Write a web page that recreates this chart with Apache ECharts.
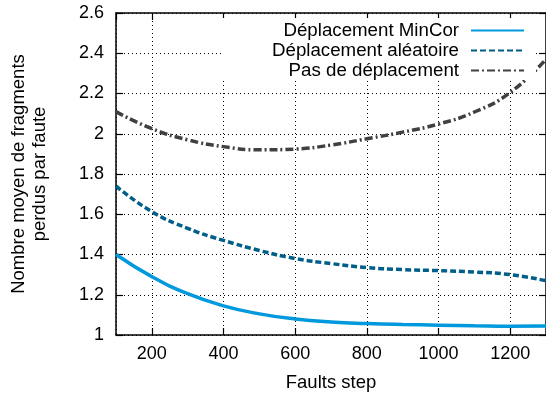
<!DOCTYPE html>
<html>
<head>
<meta charset="utf-8">
<script src="https://cdn.jsdelivr.net/npm/echarts@6/dist/echarts.min.js"></script>
<style>html,body{margin:0;padding:0;background:#fff}#c{width:546px;height:399px}</style>
</head>
<body>
<div id="c"></div>
<script>
const steps = [100, 200, 300, 400, 500, 600, 700, 800, 900, 1000, 1100, 1200, 1300];
const minCor = [1.40, 1.29, 1.205, 1.145, 1.105, 1.08, 1.065, 1.057, 1.052, 1.049, 1.046, 1.044, 1.045];
const aleatoire = [1.74, 1.613, 1.53, 1.47, 1.42, 1.38, 1.355, 1.335, 1.325, 1.32, 1.313, 1.30, 1.27];
const pasDepl = [2.11, 2.025, 1.97, 1.936, 1.92, 1.924, 1.944, 1.975, 2.008, 2.048, 2.108, 2.205, 2.37];
const seriesNames = ['Déplacement MinCor', 'Déplacement aléatoire', 'Pas de déplacement'];
const xName = 'Faults step';
const yName = 'Nombre moyen de fragments\nperdus par faute';

const FONT = '"Liberation Sans", Arial, Helvetica, sans-serif';
const pairs = (ys) => steps.map((x, i) => [x, ys[i]]);

const chart = echarts.init(document.getElementById('c'), null, {renderer: 'canvas'});
const axisLineStyle = {color: '#000', width: 1.5};
chart.setOption({
  animation: false,
  backgroundColor: '#fff',
  textStyle: {fontFamily: FONT},
  grid: {left: 112, top: 13, width: 436, bottom: 64, containLabel: false},
  legend: {
    orient: 'vertical', right: 10, top: 18, align: 'right',
    padding: [3, 11, 0, 51],
    backgroundColor: '#fff',
    itemWidth: 53, itemHeight: 14, itemGap: 1,
    itemStyle: {opacity: 0},
    textStyle: {fontFamily: FONT, fontSize: 18.7, color: '#000', padding: [0, 7, 0, 0]},
    data: seriesNames
  },
  xAxis: [{
    type: 'value', min: 100, max: 1300, splitNumber: 6,
    name: xName, nameLocation: 'middle', nameGap: 38,
    nameTextStyle: {fontFamily: FONT, fontSize: 18.5, color: '#000'},
    axisLine: {show: true, lineStyle: axisLineStyle},
    axisTick: {show: true, inside: true, length: 7, lineStyle: {color: '#000', width: 1.2}},
    axisLabel: {color: '#000', fontFamily: FONT, fontSize: 18, margin: 10,
      showMinLabel: false, showMaxLabel: false,
      formatter: (v) => (v % 200 === 0 ? String(v) : '')},
    splitLine: {show: true, lineStyle: {color: '#000', type: [1, 3], width: 1}}
  }, {
    type: 'value', position: 'top', min: 100, max: 1300, splitNumber: 6,
    axisLine: {show: true, lineStyle: axisLineStyle},
    axisTick: {show: true, inside: true, length: 7, lineStyle: {color: '#000', width: 1.2}},
    axisLabel: {show: false}, splitLine: {show: false}
  }],
  yAxis: [{
    type: 'value', min: 1, max: 2.6, interval: 0.2,
    name: yName, nameLocation: 'middle', nameGap: 66, nameRotate: 90,
    nameTextStyle: {fontFamily: FONT, fontSize: 18.5, color: '#000', lineHeight: 21, align: 'center'},
    axisLine: {show: true, lineStyle: axisLineStyle},
    axisTick: {show: true, inside: true, length: 7, lineStyle: {color: '#000', width: 1.2}},
    axisLabel: {color: '#000', fontFamily: FONT, fontSize: 18, margin: 12},
    splitLine: {show: true, lineStyle: {color: '#000', type: [1, 3], width: 1}}
  }, {
    type: 'value', position: 'right', min: 1, max: 2.6, interval: 0.2,
    axisLine: {show: true, lineStyle: axisLineStyle},
    axisTick: {show: true, inside: true, length: 7, lineStyle: {color: '#000', width: 1.2}},
    axisLabel: {show: false}, splitLine: {show: false}
  }],
  series: [{
    name: seriesNames[0], type: 'line', smooth: 0.5, symbol: 'none',
    data: pairs(minCor),
    lineStyle: {color: '#0099dd', width: 3.5}, itemStyle: {color: '#0099dd'}
  }, {
    name: seriesNames[1], type: 'line', smooth: 0.5, symbol: 'none',
    data: pairs(aleatoire),
    lineStyle: {color: '#005f8a', width: 3.5, type: [6, 3]}, itemStyle: {color: '#005f8a'}
  }, {
    name: seriesNames[2], type: 'line', smooth: 0.5, symbol: 'none',
    data: pairs(pasDepl),
    lineStyle: {color: '#404040', width: 3.5, type: [8, 3, 2, 3]}, itemStyle: {color: '#404040'}
  }]
});
</script>
</body>
</html>
